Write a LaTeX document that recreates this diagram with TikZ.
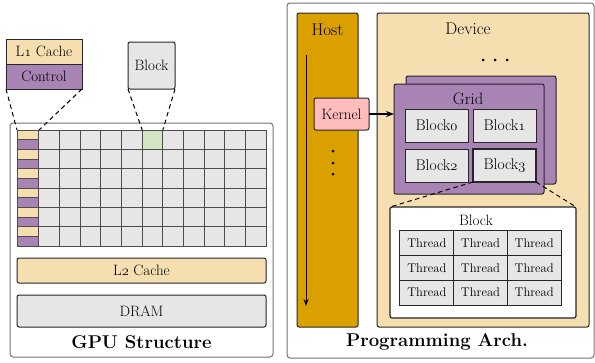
\documentclass[tikz,border=0pt]{standalone}
\usetikzlibrary{arrows.meta}
\definecolor{tanc}{HTML}{F5DFB0}
\definecolor{purp}{HTML}{A784B4}
\definecolor{cellg}{HTML}{E6E6E6}
\definecolor{greenc}{HTML}{D2E6C4}
\definecolor{hostc}{HTML}{DAA000}
\definecolor{kernc}{HTML}{FFBCBC}
\newcommand{\osn}[1]{{\usefont{OML}{cmm}{m}{it}#1}}
\begin{document}
\begin{tikzpicture}[x=1pt,y=-1pt,
  box/.style={draw=black!85, line width=1pt, inner sep=0pt, outer sep=0pt},
  rbox/.style={box, rounded corners=2pt},
  panel/.style={draw=black!55, line width=1pt, rounded corners=3pt, inner sep=0pt, outer sep=0pt},
  cell/.style={draw=black!70, line width=1pt, fill=cellg, inner sep=0pt, outer sep=0pt, minimum width=20.64pt, minimum height=19.33pt},
  strip/.style={draw=black!70, line width=1pt, inner sep=0pt, outer sep=0pt, minimum width=22pt, minimum height=9.667pt},
  thr/.style={draw=black!85, line width=1pt, fill=cellg, inner sep=0pt, outer sep=0pt, minimum width=53.67pt, minimum height=24.67pt, font=\fontsize{12.6}{14}\selectfont},
  blk/.style={box, fill=cellg, minimum width=63pt, minimum height=33pt, font=\fontsize{15.5}{17}\selectfont},
  lbl/.style={inner sep=0pt, font=\fontsize{15}{17}\selectfont},
  big/.style={inner sep=0pt, font=\fontsize{17}{19}\selectfont},
  title/.style={inner sep=0pt, font=\fontsize{18.5}{20}\selectfont\bfseries},
  dsh/.style={line width=1pt, dash pattern=on 4.5pt off 3.5pt},
  dotc/.style={circle, fill=black, inner sep=0pt, minimum size=3pt}
]
\useasboundingbox (0,0) rectangle (595,362);
\fill[white] (0,0) rectangle (595,362);

% ---------------- Left panel ----------------
\node[panel, minimum width=263pt, minimum height=234pt] (lpanel) at (141.5,240) {};
\foreach \r in {0,...,11}{
  \pgfmathsetmacro{\yy}{130+9.667*\r+4.833}
  \pgfmathtruncatemacro{\odd}{mod(\r,2)}
  \ifnum\odd=0
    \node[strip, fill=tanc] (s\r) at (28,\yy) {};
  \else
    \node[strip, fill=purp] (s\r) at (28,\yy) {};
  \fi
}
\foreach \c in {0,...,10}{
  \foreach \r in {0,...,5}{
    \node[cell] (c\c-\r) at ({39+20.636*\c+10.318},{130+19.333*\r+9.667}) {};
  }
}
\node[cell, fill=greenc] (green) at ({39+20.636*5+10.318},{130+9.667}) {};
\node[rbox, fill=tanc, minimum width=249pt, minimum height=25pt, lbl] (l2) at (141.5,270.5) {L\osn{2} Cache};
\node[rbox, fill=cellg, minimum width=249pt, minimum height=32pt, lbl] (dram) at (141.5,311) {DRAM};
\node[title] (gput) at (141.5,342) {GPU Structure};

\node[box, fill=tanc, minimum width=76pt, minimum height=25pt, lbl] (l1) at (44,51.5) {L\osn{1} Cache};
\node[box, fill=purp, minimum width=76pt, minimum height=25pt, lbl] (ctrl) at (44,76.5) {Control};
\node[rbox, fill=cellg, minimum width=47pt, minimum height=47pt, lbl] (blkz) at (151.5,65.5) {Block};

\draw[dsh] (ctrl.south west) -- (s0.north west);
\draw[dsh] (ctrl.south east) -- (s0.north east);
\draw[dsh] (blkz.south west) -- (green.north west);
\draw[dsh] (blkz.south east) -- (green.north east);

% ---------------- Right panel ----------------
\node[panel, minimum width=307pt, minimum height=355pt] (rpanel) at (440.5,180.5) {};
\node[rbox, fill=hostc, minimum width=61pt, minimum height=314pt] (host) at (327.5,170) {};
\node[big] (hostl) at (327.5,30) {Host};
\coordinate (tstart) at (306,55);
\coordinate (tend) at (306,306);
\draw[line width=1pt, -{Stealth[length=7pt,width=5pt]}] (tstart) -- (tend);
\node[rbox, fill=kernc, minimum width=55pt, minimum height=32pt, lbl] (kern) at (341.5,114) {Kernel};
\node[dotc] (hd1) at (333,151) {};
\node[dotc] (hd2) at (333,163) {};
\node[dotc] (hd3) at (333,174) {};

\node[rbox, fill=tanc, minimum width=212pt, minimum height=314pt] (dev) at (483,170) {};
\node[big] (devl) at (468,29) {Device};
\node[dotc] (dd1) at (483,60) {};
\node[dotc] (dd2) at (495,60) {};
\node[dotc] (dd3) at (507,60) {};

\node[rbox, fill=purp, minimum width=150pt, minimum height=108pt] (gridb) at (481,130) {};
\node[rbox, fill=purp, minimum width=150pt, minimum height=110pt] (gridf) at (469,139) {};
\node[inner sep=0pt, font=\fontsize{16.5}{18}\selectfont] (gridl) at (468,99) {Grid};
\node[blk] (b0) at (436.5,125.5) {Block\osn{0}};
\node[blk] (b1) at (504.5,125.5) {Block\osn{1}};
\node[blk] (b2) at (436.5,165.5) {Block\osn{2}};
\node[blk, line width=1.3pt] (b3) at (504.5,165.5) {Block\osn{3}};

\draw[line width=1.2pt, -{Stealth[length=8pt,width=6pt]}] (kern.east) -- (kern.east -| gridf.west);

\node[rbox, fill=white, line width=1.2pt, minimum width=186pt, minimum height=111pt] (detail) at (483,262.5) {};
\draw[dsh] (b3.south west) -- (detail.north west);
\draw[dsh] (b3.south east) -- (detail.north east);
\node[lbl] (detl) at (476,220) {Block};
\foreach \c in {0,1,2}{
  \foreach \r in {0,1,2}{
    \node[thr] (t\c-\r) at ({400+53.67*\c+26.83},{231+24.67*\r+12.33}) {Thread};
  }
}
\node[title] (progt) at (437,342) {Programming Arch.};
\end{tikzpicture}
\end{document}
